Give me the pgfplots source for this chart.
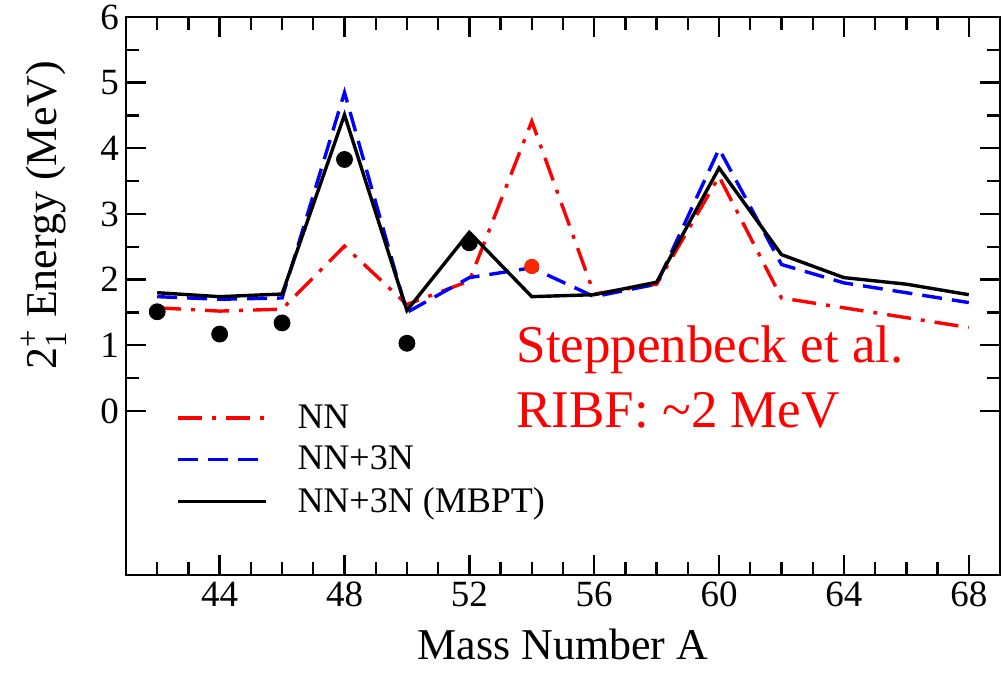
\documentclass[border=0pt]{standalone}
\usepackage{fontspec}
\setmainfont{Liberation Serif}
\usepackage{amsmath}
\usepackage{pgfplots}
\pgfplotsset{compat=1.18}
\definecolor{dotred}{RGB}{250,40,0}
\begin{document}
\begin{tikzpicture}
\useasboundingbox (-63pt,-55pt) rectangle (439pt,287.5pt);
\begin{axis}[
  at={(0,0)}, anchor=south west,
  scale only axis, width=437pt, height=279pt,
  xmin=41, xmax=69, ymin=-2.5, ymax=6,
  xtick={44,48,...,68}, minor xtick={42,...,68},
  ytick={0,...,6}, minor ytick={0.5,1.5,...,5.5},
  tick align=inside, xtick pos=both, ytick pos=both,
  major tick length=10pt, minor tick length=6.5pt,
  every tick/.style={black, line width=1.2pt},
  axis line style={line width=1.4pt},
  tick label style={font=\fontsize{18.5}{22}\selectfont},
  /pgf/number format/assume math mode=true,
  xlabel={Mass Number A},
  ylabel={$\text{2}^{\text{+}}_{\text{1}}$ Energy (MeV)},
  label style={font=\fontsize{22}{26}\selectfont},
  ylabel style={at={(axis description cs:-0.094,0.645)}, anchor=center},
  xlabel style={yshift=-4pt},
  legend style={draw=none, fill=none, at={(axis cs:42.4,0.22)}, anchor=north west,
    font=\fontsize{18}{22}\selectfont, row sep=3.3pt, cells={anchor=west},
    /tikz/every odd column/.append style={column sep=13pt}},
  legend image code/.code={\draw[#1] (0pt,0pt) -- (44pt,0pt);},
]
\addplot[red, line width=1.7pt, dash pattern=on 12pt off 5pt on 2pt off 5pt] coordinates {
(42,1.57) (44,1.52) (46,1.55) (48,2.51) (50,1.62) (52,1.98) (54,4.41) (56,1.78) (58,1.93) (60,3.57) (62,1.72) (64,1.57) (66,1.42) (68,1.27)};
\addlegendentry{NN}
\addplot[blue, line width=1.7pt, dash pattern=on 10pt off 5pt] coordinates {
(42,1.74) (44,1.70) (46,1.72) (48,4.85) (50,1.50) (52,2.03) (54,2.18) (56,1.74) (58,1.93) (60,3.99) (62,2.23) (64,1.95) (66,1.80) (68,1.65)};
\addlegendentry{NN+3N}
\addplot[black, line width=1.7pt] coordinates {
(42,1.80) (44,1.74) (46,1.78) (48,4.51) (50,1.53) (52,2.72) (54,1.74) (56,1.77) (58,1.96) (60,3.70) (62,2.38) (64,2.03) (66,1.93) (68,1.77)};
\addlegendentry{NN+3N (MBPT)}
\addplot[only marks, mark=*, mark size=4pt, black, forget plot] coordinates {
(42,1.51) (44,1.17) (46,1.34) (48,3.83) (50,1.03) (52,2.56)};
\addplot[only marks, mark=*, mark size=3.6pt, dotred, mark options={draw=dotred, fill=dotred}, forget plot] coordinates {(54,2.20)};
\node[anchor=base west, text=red, font=\fontsize{26.5}{30}\selectfont, inner sep=0pt] at (axis cs:53.5,0.74) {Steppenbeck et al.};
\node[anchor=base west, text=red, font=\fontsize{26.5}{30}\selectfont, inner sep=0pt] at (axis cs:53.5,-0.25) {RIBF: \textasciitilde 2 MeV};
\end{axis}
\end{tikzpicture}
\end{document}
